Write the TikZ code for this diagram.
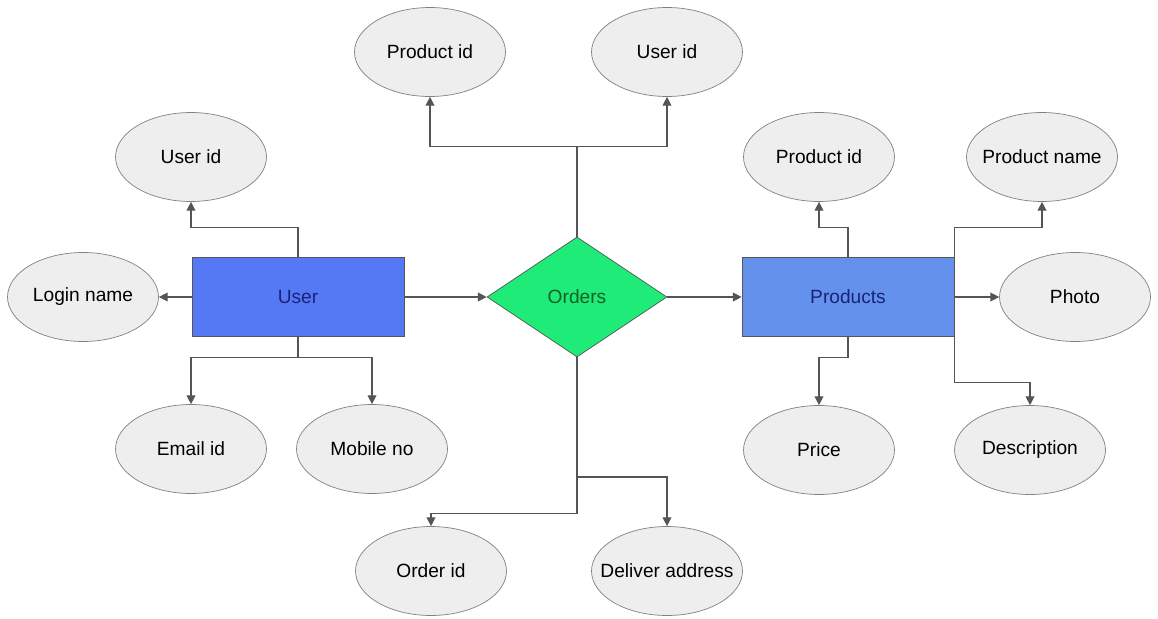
\documentclass[tikz,border=0pt]{standalone}
\usepackage{fontspec}
\setmainfont{Liberation Sans}
\usepackage{tikz}
\usetikzlibrary{arrows.meta}
\usetikzlibrary{shapes.geometric}
\usetikzlibrary{positioning}
\definecolor{userblue}{RGB}{85, 120, 245}
\definecolor{prodblue}{RGB}{100, 145, 235}
\definecolor{ordergreen}{RGB}{30, 235, 120}
\definecolor{linegray}{RGB}{85, 85, 85}
\definecolor{attrgray}{RGB}{238, 238, 238}
\definecolor{navytext}{RGB}{25, 35, 120}
\definecolor{greentext}{RGB}{20, 95, 40}

\begin{document}
\begin{tikzpicture}[x=0.02cm, y=-0.02cm,
        font=\fontsize{10.9}{13}\selectfont,
        entity/.style={draw=linegray, rectangle, minimum width=4.24cm, minimum height=1.58cm, inner sep=0pt, text=navytext},
        relation/.style={draw=linegray, diamond, fill=ordergreen, minimum width=3.6cm, minimum height=2.4cm, inner sep=0pt, text=greentext},
        attr/.style={draw=gray, ellipse, fill=attrgray, minimum width=3.02cm, minimum height=1.78cm, inner sep=0pt},
        conn/.style={draw=linegray, line width=0.7pt, -{Triangle[length=5pt, width=5pt]}}]
            % Frame
            \useasboundingbox (0, 0) rectangle (1158, 618);
            % Entities & relation
            \node[entity, fill=userblue]  (user)     at (298, 297) {User};
            \node[relation]               (orders)   at (577, 297) {Orders};
            \node[entity, fill=prodblue]  (products) at (848, 297) {Products};
            % User attributes
            \node[attr] (useruid)  at (191, 157) {User id};
            \node[attr] (login)    at ( 83, 297) {Login name};
            \node[attr] (email)    at (191, 449) {Email id};
            \node[attr] (mobile)   at (372, 449) {Mobile no};
            % Orders attributes
            \node[attr] (ordpid)   at (430,  52) {Product id};
            \node[attr] (orduid)   at (667,  52) {User id};
            \node[attr] (orderid)  at (431, 571) {Order id};
            \node[attr] (address)  at (667, 571) {\makebox[1.8cm]{Deliver address}};
            % Products attributes
            \node[attr] (prodpid)  at (819, 157) {Product id};
            \node[attr] (pname)    at (1042, 157) {\makebox[1.8cm]{Product name}};
            \node[attr] (photo)    at (1075, 297) {Photo};
            \node[attr] (price)    at (819, 450) {Price};
            \node[attr] (descr)    at (1030, 450) {Description};
            % User connectors
            \draw[conn] (user.north) -- ++(0, -30) -| (useruid.south);
            \draw[conn] (user.west) -- (login.east);
            \draw[conn] (user.south) -- ++(0, 21) -| (email.north);
            \draw[conn] (user.south) -- ++(0, 21) -| (mobile.north);
            \draw[conn] (user.east) -- (orders.west);
            % Orders connectors
            \draw[conn] (orders.north) -- ++(0, -90) -| (ordpid.south);
            \draw[conn] (orders.north) -- ++(0, -90) -| (orduid.south);
            \draw[conn] (orders.south) -- ++(0, 156) -| (orderid.north);
            \coordinate (ordbranch) at (577, 477);
            \draw[conn] (ordbranch) -| (address.north);
            \draw[conn] (orders.east) -- (products.west);
            % Products connectors
            \draw[conn] (products.north) -- ++(0, -30) -| (prodpid.south);
            \draw[conn] (products.north east) -- ++(0, -30) -| (pname.south);
            \draw[conn] (products.east) -- (photo.west);
            \draw[conn] (products.south) -- ++(0, 21) -| (price.north);
            \draw[conn] (products.south east) -- ++(0, 46) -| (descr.north);
\end{tikzpicture}
\end{document}
